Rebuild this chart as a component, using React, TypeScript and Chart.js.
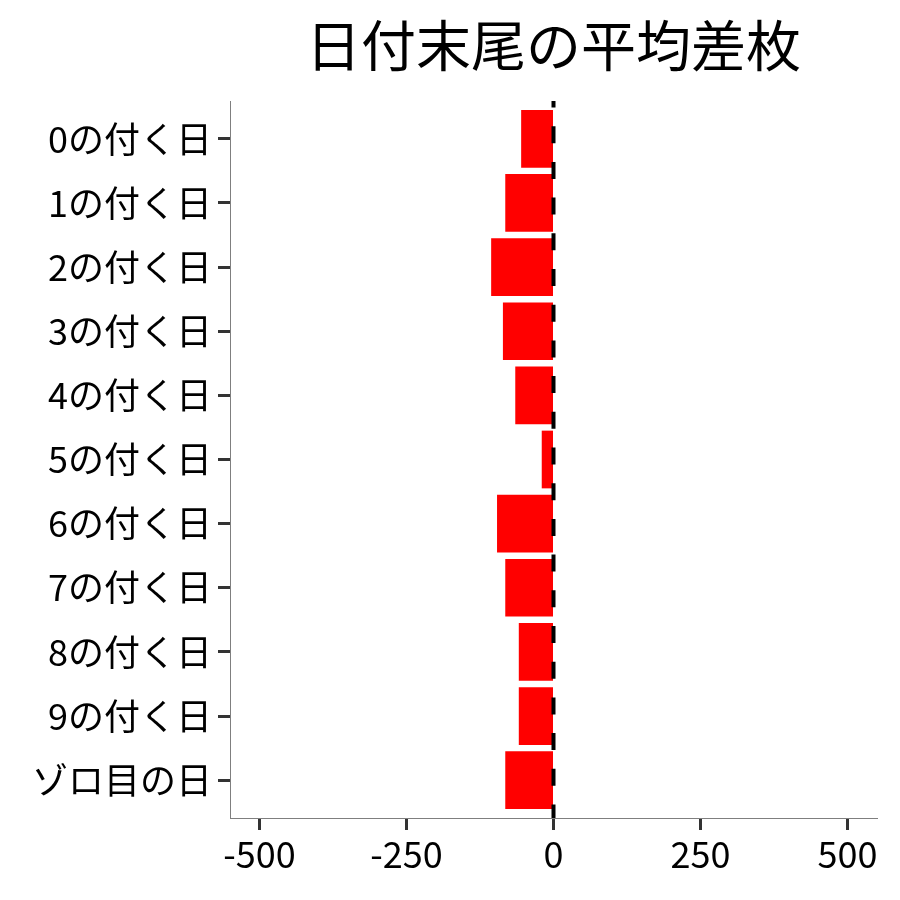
import { useEffect, useRef } from 'react';
import { Chart, registerables } from 'chart.js';

Chart.register(...registerables);

const FONT = "'Noto Sans CJK JP', 'Noto Sans', sans-serif";

const days = [
  '0の付く日', '1の付く日', '2の付く日', '3の付く日', '4の付く日', '5の付く日',
  '6の付く日', '7の付く日', '8の付く日', '9の付く日', 'ゾロ目の日',
];
const avgDiff = [-55, -82, -106, -86, -65, -20, -96, -82, -59, -59, -82];
const xTicks = [-500, -250, 0, 250, 500];

// dashed reference line at x = 0
const zeroLine = {
  id: 'zeroLine',
  afterDatasetsDraw(chart: any) {
    const { ctx, chartArea, scales } = chart;
    const x = scales.x.getPixelForValue(0);
    ctx.save();
    ctx.strokeStyle = '#000000';
    ctx.lineWidth = 4;
    ctx.setLineDash([17, 18.7]);
    ctx.lineDashOffset = 10.5;
    ctx.beginPath();
    ctx.moveTo(x, chartArea.top);
    ctx.lineTo(x, chartArea.bottom);
    ctx.stroke();
    ctx.restore();
  },
};

export default function App() {
  const canvasRef = useRef<HTMLCanvasElement>(null);
  const chartRef = useRef<Chart | null>(null);

  useEffect(() => {
    if (!canvasRef.current) return;
    if (chartRef.current) chartRef.current.destroy();

    chartRef.current = new Chart(canvasRef.current, {
      type: 'bar',
      data: {
        labels: days,
        datasets: [
          {
            data: avgDiff.map((v, i) => ({ x: v, y: i })) as any,
            backgroundColor: '#ff0000',
            borderWidth: 0,
            barPercentage: 0.9,
            categoryPercentage: 1,
          },
        ],
      },
      options: {
        indexAxis: 'y',
        animation: false,
        responsive: false,
        layout: { padding: { left: 0, right: 23, top: 0, bottom: 0 } },
        plugins: {
          legend: { display: false },
          tooltip: { enabled: false },
          title: {
            display: true,
            fullSize: false,
            text: '日付末尾の平均差枚',
            color: '#000000',
            font: { family: FONT, size: 55, weight: 'normal' },
            padding: { top: 12, bottom: 23 },
          },
        },
        scales: {
          x: {
            type: 'linear',
            min: -550,
            max: 550,
            afterBuildTicks: (axis: any) => {
              axis.ticks = xTicks.map((v) => ({ value: v }));
            },
            afterFit: (s: any) => {
              s.height = 82;
            },
            ticks: {
              color: '#000000',
              font: { family: FONT, size: 36 },
              padding: 3,
              maxRotation: 0,
              callback: (v: any) => String(v),
            },
            grid: {
              drawOnChartArea: false,
              drawTicks: true,
              tickLength: 12,
              tickWidth: 3,
              tickColor: '#333333',
            },
            border: { display: true, color: '#7f7f7f', width: 1 },
          },
          y: {
            type: 'linear',
            reverse: true,
            offset: false,
            min: -0.59,
            max: days.length - 1 + 0.59,
            afterBuildTicks: (axis: any) => {
              axis.ticks = days.map((_, i) => ({ value: i }));
            },
            afterFit: (s: any) => {
              s.width = 230;
            },
            ticks: {
              color: '#000000',
              font: { family: FONT, size: 36 },
              padding: 6,
              callback: (v: any) => days[v] ?? '',
            },
            grid: {
              offset: false,
              drawOnChartArea: false,
              drawTicks: true,
              tickLength: 12,
              tickWidth: 3,
              tickColor: '#333333',
            },
            border: { display: true, color: '#7f7f7f', width: 1 },
          },
        },
      },
      plugins: [zeroLine],
    });

    return () => {
      if (chartRef.current) {
        chartRef.current.destroy();
        chartRef.current = null;
      }
    };
  }, []);

  return (
    <div style={{ position: 'fixed', left: 0, top: 0, width: 900, height: 900, background: '#ffffff' }}>
      <canvas ref={canvasRef} width={900} height={900} style={{ width: 900, height: 900 }}></canvas>
    </div>
  );
}
